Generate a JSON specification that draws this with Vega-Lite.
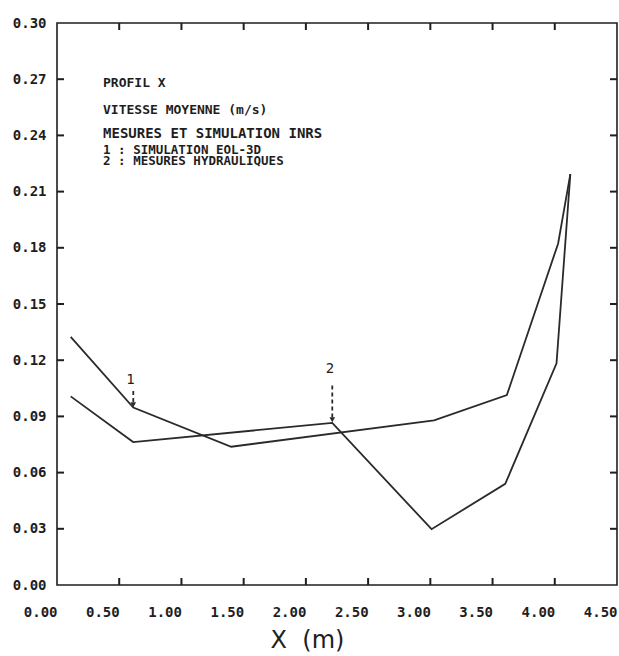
{
  "$schema": "https://vega.github.io/schema/vega-lite/v6.json",
  "autosize": "none",
  "width": 560,
  "height": 562,
  "padding": {"left": 57, "top": 23, "right": 2, "bottom": 71},
  "background": "white",
  "config": {
    "view": {"stroke": "#1e1e1e", "strokeWidth": 1.6},
    "axis": {
      "grid": false,
      "domain": false,
      "labelFont": "DejaVu Sans Mono",
      "labelFontSize": 14,
      "labelFontWeight": "bold",
      "labelColor": "#1e1e1e"
    }
  },
  "resolve": {"axis": {"x": "independent", "y": "independent"}},
  "datasets": {
    "curves": [
      {"series": "1", "ord": 1, "x": 0.11, "y": 0.1324},
      {"series": "1", "ord": 2, "x": 0.613, "y": 0.0947},
      {"series": "1", "ord": 3, "x": 1.40, "y": 0.0738},
      {"series": "1", "ord": 4, "x": 3.03, "y": 0.0879},
      {"series": "1", "ord": 5, "x": 3.615, "y": 0.1014},
      {"series": "1", "ord": 6, "x": 4.027, "y": 0.1823},
      {"series": "1", "ord": 7, "x": 4.125, "y": 0.2193},
      {"series": "2", "ord": 1, "x": 0.11, "y": 0.1007},
      {"series": "2", "ord": 2, "x": 0.612, "y": 0.0763},
      {"series": "2", "ord": 3, "x": 2.212, "y": 0.0865},
      {"series": "2", "ord": 4, "x": 3.01, "y": 0.0298},
      {"series": "2", "ord": 5, "x": 3.602, "y": 0.054},
      {"series": "2", "ord": 6, "x": 4.014, "y": 0.1183},
      {"series": "2", "ord": 7, "x": 4.125, "y": 0.2193}
    ],
    "ticksX": [{"v": 0.5}, {"v": 1}, {"v": 1.5}, {"v": 2}, {"v": 2.5}, {"v": 3}, {"v": 3.5}, {"v": 4}],
    "ticksY": [{"v": 0.03}, {"v": 0.06}, {"v": 0.09}, {"v": 0.12}, {"v": 0.15}, {"v": 0.18}, {"v": 0.21}, {"v": 0.24}, {"v": 0.27}],
    "arrows": [
      {"id": "1", "x": 0.613, "y0": 0.1036, "y1": 0.0972, "ytip": 0.0962, "lx": 0.59, "ly": 0.1095},
      {"id": "2", "x": 2.212, "y0": 0.1065, "y1": 0.0892, "ytip": 0.0882, "lx": 2.193, "ly": 0.1155}
    ],
    "notes": [
      {"text": "PROFIL X", "x": 0.37, "y": 0.2682},
      {"text": "VITESSE MOYENNE (m/s)", "x": 0.37, "y": 0.2536}
    ],
    "notesBig": [
      {"text": "MESURES ET SIMULATION INRS", "x": 0.37, "y": 0.2405}
    ],
    "notesList": [
      {"text": ["1 : SIMULATION EOL-3D", "2 : MESURES HYDRAULIQUES"], "x": 0.37, "y": 0.2352}
    ]
  },
  "layer": [
    {
      "data": {"name": "curves"},
      "mark": {"type": "line", "color": "#2a2a2a", "strokeWidth": 1.8},
      "encoding": {
        "x": {
          "field": "x", "type": "quantitative",
          "scale": {"domain": [0, 4.5], "nice": false, "zero": false},
          "axis": {
            "orient": "bottom",
            "ticks": false,
            "values": [0, 0.5, 1, 1.5, 2, 2.5, 3, 3.5, 4, 4.5],
            "format": ".2f",
            "labelAlign": "right",
            "labelDx": -4,
            "labelPadding": 20,
            "title": "X\u00a0\u00a0(m)",
            "titleFont": "DejaVu Sans",
            "titleFontSize": 24,
            "titleFontWeight": "normal",
            "titleColor": "#1e1e1e",
            "titleX": 250,
            "titleY": 62,
            "titleBaseline": "alphabetic"
          }
        },
        "y": {
          "field": "y", "type": "quantitative",
          "scale": {"domain": [0, 0.3], "nice": false, "zero": false},
          "axis": {
            "orient": "left",
            "ticks": false,
            "values": [0, 0.03, 0.06, 0.09, 0.12, 0.15, 0.18, 0.21, 0.24, 0.27, 0.30],
            "format": ".2f",
            "labelPadding": 11,
            "labelDy": -3,
            "title": null
          }
        },
        "detail": {"field": "series"},
        "order": {"field": "ord"}
      }
    },
    {
      "data": {"name": "ticksX"},
      "mark": {"type": "tick", "orient": "vertical", "size": 7, "thickness": 2, "yOffset": -3.5, "color": "#1e1e1e", "opacity": 1},
      "encoding": {
        "x": {"field": "v", "type": "quantitative", "axis": null},
        "y": {"datum": 0, "type": "quantitative", "axis": null}
      }
    },
    {
      "data": {"name": "ticksX"},
      "mark": {"type": "tick", "orient": "vertical", "size": 7, "thickness": 2, "yOffset": 3.5, "color": "#1e1e1e", "opacity": 1},
      "encoding": {
        "x": {"field": "v", "type": "quantitative", "axis": null},
        "y": {"datum": 0.3, "type": "quantitative", "axis": null}
      }
    },
    {
      "data": {"name": "ticksY"},
      "mark": {"type": "tick", "orient": "horizontal", "size": 7, "thickness": 2, "xOffset": 3.5, "color": "#1e1e1e", "opacity": 1},
      "encoding": {
        "y": {"field": "v", "type": "quantitative", "axis": null},
        "x": {"datum": 0, "type": "quantitative", "axis": null}
      }
    },
    {
      "data": {"name": "ticksY"},
      "mark": {"type": "tick", "orient": "horizontal", "size": 7, "thickness": 2, "xOffset": -3.5, "color": "#1e1e1e", "opacity": 1},
      "encoding": {
        "y": {"field": "v", "type": "quantitative", "axis": null},
        "x": {"datum": 4.5, "type": "quantitative", "axis": null}
      }
    },
    {
      "data": {"name": "arrows"},
      "mark": {"type": "rule", "color": "#2a2a2a", "strokeWidth": 1.8, "strokeDash": [4, 3]},
      "encoding": {
        "x": {"field": "x", "type": "quantitative", "axis": null},
        "y": {"field": "y0", "type": "quantitative", "axis": null},
        "y2": {"field": "y1"}
      }
    },
    {
      "data": {"name": "arrows"},
      "mark": {"type": "point", "shape": "triangle-down", "filled": true, "color": "#2a2a2a", "size": 32, "opacity": 1},
      "encoding": {
        "x": {"field": "x", "type": "quantitative", "axis": null},
        "y": {"field": "ytip", "type": "quantitative", "axis": null}
      }
    },
    {
      "data": {"name": "arrows"},
      "mark": {"type": "text", "font": "DejaVu Sans Mono", "fontSize": 14, "color": "#1e1e1e", "baseline": "middle", "align": "center"},
      "encoding": {
        "x": {"field": "lx", "type": "quantitative", "axis": null},
        "y": {"field": "ly", "type": "quantitative", "axis": null},
        "text": {"field": "id"}
      }
    },
    {
      "data": {"name": "notes"},
      "mark": {"type": "text", "font": "DejaVu Sans Mono", "fontSize": 13, "fontWeight": "bold", "color": "#1e1e1e", "baseline": "middle", "align": "left"},
      "encoding": {
        "x": {"field": "x", "type": "quantitative", "axis": null},
        "y": {"field": "y", "type": "quantitative", "axis": null},
        "text": {"field": "text"}
      }
    },
    {
      "data": {"name": "notesBig"},
      "mark": {"type": "text", "font": "DejaVu Sans Mono", "fontSize": 14, "fontWeight": "bold", "color": "#1e1e1e", "baseline": "middle", "align": "left"},
      "encoding": {
        "x": {"field": "x", "type": "quantitative", "axis": null},
        "y": {"field": "y", "type": "quantitative", "axis": null},
        "text": {"field": "text"}
      }
    },
    {
      "data": {"name": "notesList"},
      "mark": {"type": "text", "font": "DejaVu Sans Mono", "fontSize": 12.5, "fontWeight": "bold", "lineHeight": 10.5, "color": "#1e1e1e", "baseline": "top", "align": "left"},
      "encoding": {
        "x": {"field": "x", "type": "quantitative", "axis": null},
        "y": {"field": "y", "type": "quantitative", "axis": null},
        "text": {"field": "text"}
      }
    }
  ]
}
